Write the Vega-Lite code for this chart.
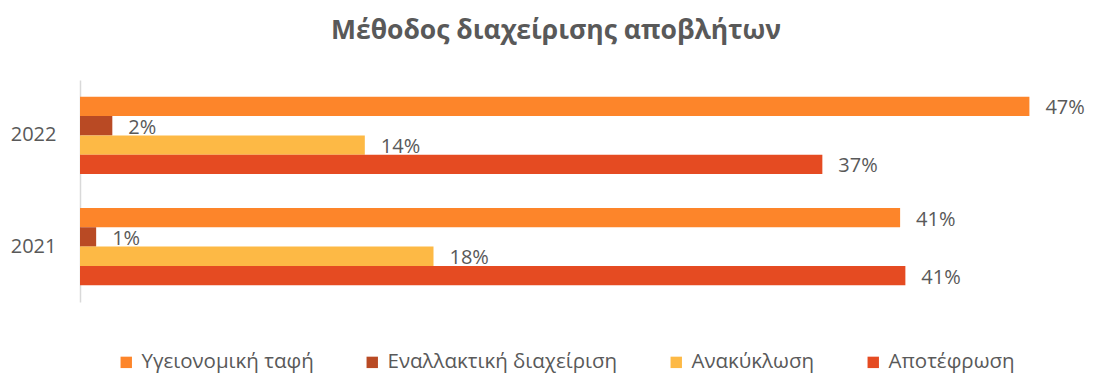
{
  "$schema": "https://vega.github.io/schema/vega-lite/v6.json",
  "autosize": {"type": "none"},
  "padding": {"left": 80, "top": 80, "right": 5, "bottom": 71},
  "width": 1010,
  "height": 222,
  "background": "white",
  "config": {
    "font": "Open Sans",
    "view": {"stroke": null}
  },
  "title": {
    "text": "Μέθοδος διαχείρισης αποβλήτων",
    "font": "Open Sans",
    "fontSize": 26.5,
    "fontWeight": "bold",
    "color": "#595959",
    "anchor": "middle",
    "dx": -29,
    "offset": 36
  },
  "data": {
    "values": [
      {"year": "2022", "method": "Υγειονομική ταφή", "share": 0.47},
      {"year": "2022", "method": "Εναλλακτική διαχείριση", "share": 0.016},
      {"year": "2022", "method": "Ανακύκλωση", "share": 0.141},
      {"year": "2022", "method": "Αποτέφρωση", "share": 0.3675},
      {"year": "2021", "method": "Υγειονομική ταφή", "share": 0.406},
      {"year": "2021", "method": "Εναλλακτική διαχείριση", "share": 0.008},
      {"year": "2021", "method": "Ανακύκλωση", "share": 0.175},
      {"year": "2021", "method": "Αποτέφρωση", "share": 0.4086}
    ]
  },
  "encoding": {
    "y": {
      "field": "year",
      "type": "nominal",
      "sort": ["2022", "2021"],
      "scale": {"paddingInner": 0.304, "paddingOuter": 0.15},
      "axis": {
        "title": null,
        "ticks": false,
        "domainColor": "#D9D9D9",
        "domainWidth": 1.5,
        "labelFontSize": 20,
        "labelColor": "#595959",
        "labelPadding": 24,
        "labelFont": "Open Sans"
      }
    },
    "yOffset": {
      "field": "method",
      "type": "nominal",
      "sort": ["Υγειονομική ταφή", "Εναλλακτική διαχείριση", "Ανακύκλωση", "Αποτέφρωση"],
      "scale": {"paddingInner": 0, "paddingOuter": 0}
    },
    "x": {
      "field": "share",
      "type": "quantitative",
      "scale": {"domain": [0, 0.5], "nice": false},
      "axis": null
    }
  },
  "layer": [
    {
      "mark": {"type": "bar"},
      "encoding": {
        "color": {
          "field": "method",
          "type": "nominal",
          "sort": ["Υγειονομική ταφή", "Εναλλακτική διαχείριση", "Ανακύκλωση", "Αποτέφρωση"],
          "scale": {
            "domain": ["Υγειονομική ταφή", "Εναλλακτική διαχείριση", "Ανακύκλωση", "Αποτέφρωση"],
            "range": ["#FD852A", "#B94A24", "#FDB945", "#E54B22"]
          },
          "legend": {
            "title": null,
            "orient": "none",
            "direction": "horizontal",
            "legendX": 36,
            "legendY": 272,
            "symbolType": "square",
            "symbolSize": 130,
            "symbolStrokeWidth": 0,
            "labelFontSize": 20.5,
            "labelLimit": 0,
            "labelColor": "#595959",
            "labelFont": "Open Sans",
            "columnPadding": 48,
            "labelOffset": 5
          }
        }
      }
    },
    {
      "mark": {"type": "text", "align": "left", "baseline": "middle", "dx": 16, "dy": 2, "fontSize": 20, "color": "#595959", "font": "Open Sans"},
      "encoding": {
        "text": {"field": "share", "type": "quantitative", "format": ".0%"}
      }
    }
  ]
}
